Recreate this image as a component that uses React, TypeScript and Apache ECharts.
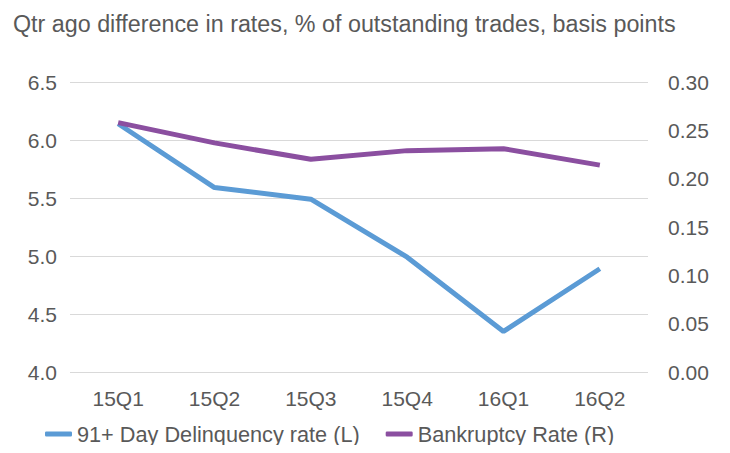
import React, { useEffect, useRef } from "react";
import * as echarts from "echarts";

const categories = ["15Q1", "15Q2", "15Q3", "15Q4", "16Q1", "16Q2"];
const delinquency = [6.14, 5.59, 5.49, 4.99, 4.35, 4.89];
const bankruptcy = [0.258, 0.237, 0.22, 0.229, 0.231, 0.214];
const titleText = "Qtr ago difference in rates, % of outstanding trades, basis points";
const seriesNames = ["91+ Day Delinquency rate (L)", "Bankruptcy Rate (R)"];

export default function App() {
  const ref = useRef<HTMLDivElement>(null);
  useEffect(() => {
    if (!ref.current) return;
    const chart = echarts.init(ref.current, null, { renderer: "svg" });
    const font = "'Liberation Sans', Arial, sans-serif";
    const txt = "#595959";
    chart.setOption({
      animation: false,
      textStyle: { fontFamily: font },
      title: {
        text: titleText,
        left: 8,
        top: 7,
        textStyle: { fontFamily: font, fontSize: 23.3, fontWeight: "normal", color: txt },
      },
      grid: { left: 70, right: 82, top: 82, bottom: 81 },
      legend: {
        bottom: 3,
        left: 40,
        padding: 5,
        icon: "roundRect",
        itemWidth: 27,
        itemHeight: 5,
        itemGap: 26,
        textStyle: { fontFamily: font, fontSize: 21.7, color: txt },
        data: seriesNames,
      },
      xAxis: {
        type: "category",
        data: categories,
        boundaryGap: true,
        axisLine: { show: false },
        axisTick: { show: false },
        axisLabel: { fontFamily: font, fontSize: 21, color: txt, margin: 16 },
      },
      yAxis: [
        {
          type: "value",
          min: 4,
          max: 6.5,
          interval: 0.5,
          axisLine: { show: false },
          axisTick: { show: false },
          splitLine: { lineStyle: { color: "#d9d9d9", width: 1 } },
          axisLabel: {
            fontFamily: font,
            fontSize: 21,
            color: txt,
            margin: 13,
            formatter: (v: number) => v.toFixed(1),
          },
        },
        {
          type: "value",
          min: 0,
          max: 0.3,
          interval: 0.05,
          axisLine: { show: false },
          axisTick: { show: false },
          splitLine: { show: false },
          axisLabel: {
            fontFamily: font,
            fontSize: 21,
            color: txt,
            margin: 20,
            formatter: (v: number) => v.toFixed(2),
          },
        },
      ],
      series: [
        {
          name: seriesNames[0],
          type: "line",
          data: delinquency,
          yAxisIndex: 0,
          showSymbol: false,
          symbol: "none",
          lineStyle: { color: "#5B9BD5", width: 5 },
          itemStyle: { color: "#5B9BD5" },
        },
        {
          name: seriesNames[1],
          type: "line",
          data: bankruptcy,
          yAxisIndex: 1,
          showSymbol: false,
          symbol: "none",
          lineStyle: { color: "#8B4FA0", width: 5 },
          itemStyle: { color: "#8B4FA0" },
        },
      ],
    });
    return () => chart.dispose();
  }, []);
  return <div ref={ref} style={{ width: 730, height: 453, margin: -8 }} />;
}
